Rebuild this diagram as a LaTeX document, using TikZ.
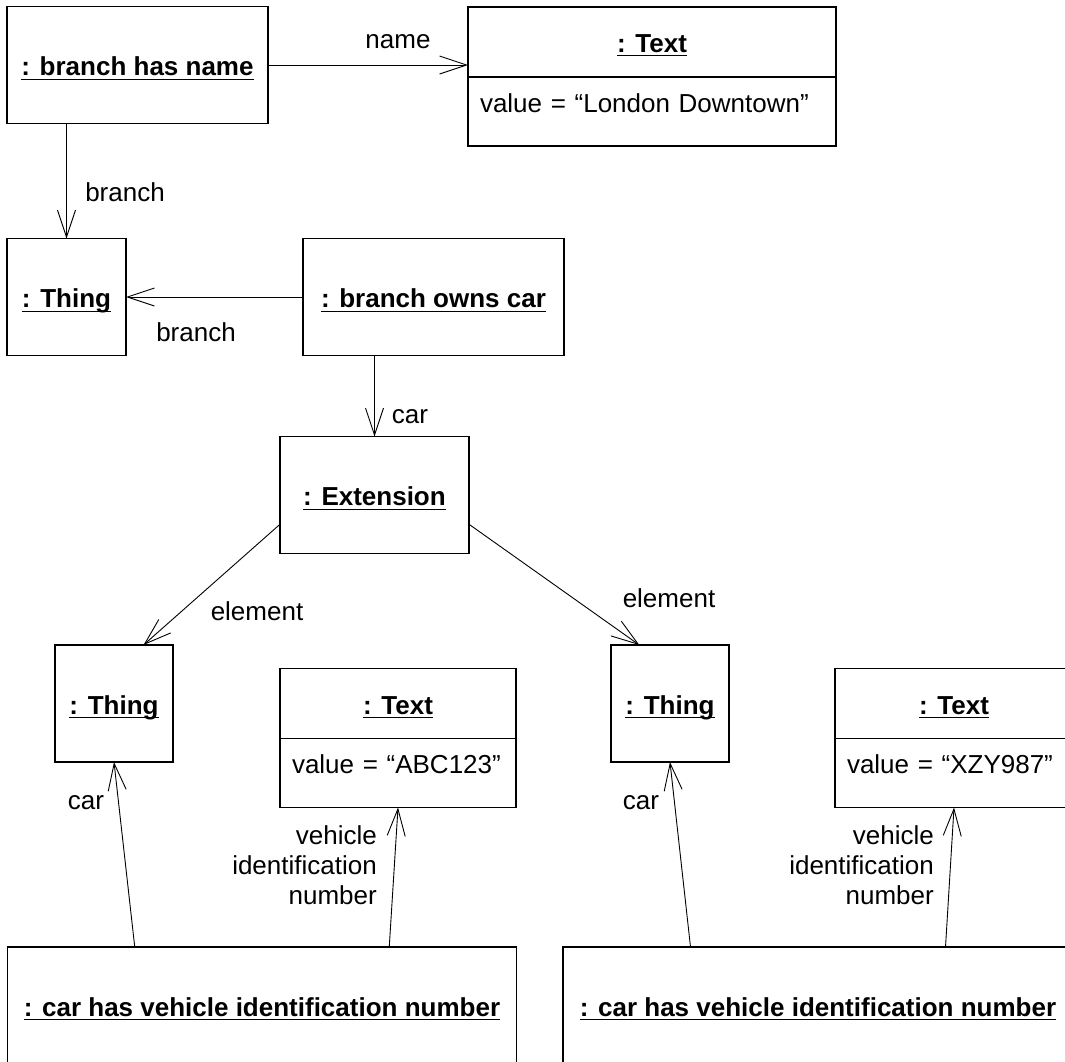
\documentclass[tikz,border=0pt]{standalone}
\usepackage{amsmath}
\usepackage{fontspec}
\setmainfont{Liberation Sans}
\usetikzlibrary{positioning, arrows.meta, calc}
\newcommand{\objname}[1]{\underline{\smash[b]{\textbf{#1}}}}

\begin{document}
\begin{tikzpicture}[
  x=1pt, y=-1pt,
  font=\fontsize{26}{30}\selectfont,
  obj/.style={draw,line width=1.4pt,outer sep=0pt,inner sep=0pt,text height=23.6pt,text depth=2pt,minimum height=117pt},
  objtop/.style={draw,line width=1.4pt,outer sep=0pt,inner sep=0pt,text height=23pt,text depth=2pt,minimum height=70pt},
  objval/.style={draw,line width=1.4pt,outer sep=0pt,inner xsep=12pt,inner ysep=0pt,text height=35pt,text depth=34pt,align=left},
  link/.style={-{Straight Barb[length=27pt,width=18pt]},line width=0.9pt},
  role/.style={inner sep=0pt},
]

\useasboundingbox (0,0) rectangle (1065,1061);
\clip (0,0) rectangle (1065,1061);

\node[obj,minimum width=261pt] (bhn) at (137.5,65) {\objname{: branch has name}};
\node[objtop,minimum width=368pt] (t1) at (652,42) {\objname{: Text}};
\node[objval,text width=344pt,below=0pt of t1] (t1v) {value = “London Downtown”};

\node[obj,minimum width=119pt] (th1) at (66.5,297) {\objname{: Thing}};
\node[obj,minimum width=261pt] (boc) at (433.5,297) {\objname{: branch owns car}};
\node[obj,minimum width=189pt] (ext) at (374.5,495) {\objname{: Extension}};

\node[obj,minimum width=118pt] (th2) at (114,703.5) {\objname{: Thing}};
\node[objtop,minimum width=236pt] (t2) at (398,703.5) {\objname{: Text}};
\node[objval,text width=212pt,below=0pt of t2] (t2v) {value = “ABC123”};
\node[obj,minimum width=118pt] (th3) at (670,703.5) {\objname{: Thing}};
\node[objtop,minimum width=238pt] (t3) at (954,703.5) {\objname{: Text}};
\node[objval,text width=214pt,below=0pt of t3] (t3v) {value = “XZY987”};

\node[obj,minimum width=509pt] (cv1) at (262,1005.5) {\objname{: car has vehicle identification number}};
\node[obj,minimum width=510pt] (cv2) at (818,1005.5) {\objname{: car has vehicle identification number}};

\draw[link] (bhn.east) -- (bhn.east -| t1.west);
\draw[link] (bhn.south -| th1.north) -- (th1.north);
\draw[link] (boc.west) -- (th1.east);
\draw[link] (boc.south -| ext.north) -- (ext.north);
\draw[link] ($(ext.south west)!0.25!(ext.north west)$) -- ($(th2.north west)!0.75!(th2.north east)$);
\draw[link] ($(ext.south east)!0.25!(ext.north east)$) -- ($(th3.north west)!0.24!(th3.north east)$);

\foreach \i/\th/\tv in {1/th2/t2v, 2/th3/t3v} {
  \draw[link] ($(cv\i.north west)!0.25!(cv\i.north east)$) -- (\th.south);
  \draw[link] ($(cv\i.north west)!0.75!(cv\i.north east)$) -- (\tv.south);
}

\node[role] (lname) at (398,42) {name};
\node[role] (lbranch1) at (125,192) {branch};
\node[role] (lbranch2) at (196,332) {branch};
\node[role] (lcar) at (410,417) {car};
\node[role] (lelem1) at (257,611) {element};
\node[role] (lelem2) at (669,598) {element};
\node[role] (lcar1) at (86,803) {car};
\node[role] (lcar2) at (641,803) {car};
\node[role,align=right,anchor=east] (lvin1) at (377,865) {vehicle\\identification\\number};
\node[role,align=right,anchor=east] (lvin2) at (934,865) {vehicle\\identification\\number};

\end{tikzpicture}
\end{document}
